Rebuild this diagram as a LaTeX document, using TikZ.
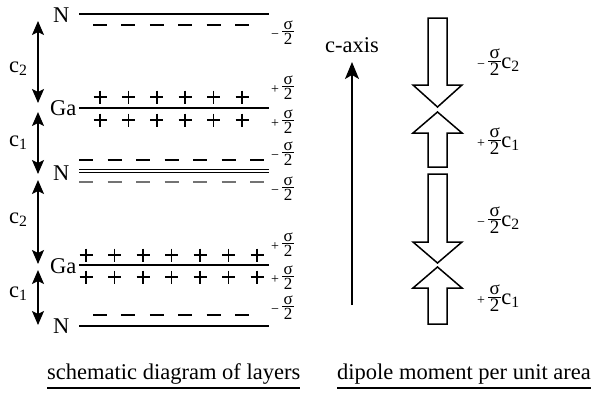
\documentclass[tikz,border=0pt]{standalone}
\usepackage{fontspec}
\setmainfont{Liberation Serif}
\usetikzlibrary{arrows.meta}
\newcommand\hsig[1]{{\fontsize{#1}{#1}\selectfont\renewcommand\arraystretch{0.62}\begin{tabular}{@{\hspace{1.5pt}}c@{\hspace{1.5pt}}}σ\\[-1pt]\hline\noalign{\vskip1.5pt}2\end{tabular}}}
\newcommand\sgn[1]{{\fontsize{14}{14}\selectfont #1}\hspace{3pt}}
\begin{document}
\begin{tikzpicture}[x=1pt,y=-1pt,font=\fontsize{22.5}{27}\selectfont,
  layer/.style={line width=1.8pt},
  chg/.style={line width=1.7pt},
  grey/.style={chg,draw=black!55},
  dim/.style={line width=1.5pt,{Stealth[length=14pt,width=12pt,inset=3pt]}-{Stealth[length=14pt,width=12pt,inset=3pt]}},
  axis/.style={line width=1.5pt,-{Stealth[length=17pt,width=14pt,inset=4pt]}},
  blk/.style={draw,line width=1.5pt,fill=white,line join=miter},
  sig/.style={anchor=west,inner sep=0pt},
  lab/.style={anchor=base west,inner sep=0pt},
  captext/.style={anchor=base west,inner sep=0pt}]
\useasboundingbox (0,0) rectangle (597,394);

% layer lines
\draw[layer] (79,14) -- (269,14);
\draw[layer] (79,108) -- (269,108);
\draw[line width=1.3pt] (79,169.5) -- (269,169.5);
\draw[line width=1.3pt] (79,172.5) -- (269,172.5);
\draw[layer] (79,265) -- (269,265);
\draw[layer] (79,326) -- (269,326);

% labels of layers
\node[lab] (n1) at (53,22) {N};
\node[lab] (g1) at (50,115) {Ga};
\node[lab] (n2) at (53,180) {N};
\node[lab] (g2) at (50,273) {Ga};
\node[lab] (n3) at (53,333) {N};

% charges
\foreach \i in {0,...,5} {
  \draw[chg] ({100+28.4*\i-7},25) -- ({100+28.4*\i+7},25);
  \draw[chg] ({100+28.4*\i-6.5},97) -- ({100+28.4*\i+6.5},97);
  \draw[chg] ({100+28.4*\i},90.5) -- ({100+28.4*\i},103.5);
  \draw[chg] ({100+28.4*\i-6.5},120) -- ({100+28.4*\i+6.5},120);
  \draw[chg] ({100+28.4*\i},113.5) -- ({100+28.4*\i},126.5);
  \draw[chg] ({100+28.4*\i-7},315) -- ({100+28.4*\i+7},315);
}
\foreach \i in {0,...,6} {
  \draw[chg] ({86+28.5*\i-7},160) -- ({86+28.5*\i+7},160);
  \draw[grey] ({86+28.5*\i-7},182) -- ({86+28.5*\i+7},182);
  \draw[chg] ({86+28.5*\i-6.5},255) -- ({86+28.5*\i+6.5},255);
  \draw[chg] ({86+28.5*\i},248.5) -- ({86+28.5*\i},261.5);
  \draw[chg] ({86+28.5*\i-6.5},277) -- ({86+28.5*\i+6.5},277);
  \draw[chg] ({86+28.5*\i},270.5) -- ({86+28.5*\i},283.5);
}

% charge densities
\node[sig] (s1) at (271,34) {\sgn{−}\hsig{17}};
\node[sig] (s2) at (271,89) {\sgn{+}\hsig{17}};
\node[sig] (s3) at (271,123) {\sgn{+}\hsig{17}};
\node[sig] (s4) at (271,155) {\sgn{−}\hsig{17}};
\node[sig] (s5) at (271,190) {\sgn{−}\hsig{17}};
\node[sig] (s6) at (271,246) {\sgn{+}\hsig{17}};
\node[sig] (s7) at (271,279) {\sgn{+}\hsig{17}};
\node[sig] (s8) at (271,309) {\sgn{−}\hsig{17}};

% spacing arrows
\coordinate (a0) at (38,21);
\coordinate (a1) at (38,103);
\coordinate (a2) at (38,112);
\coordinate (a3) at (38,174);
\coordinate (a4) at (38,180);
\coordinate (a5) at (38,264);
\coordinate (a6) at (38,270);
\coordinate (a7) at (38,325);
\draw[dim] (a0) -- (a1);
\draw[dim] (a2) -- (a3);
\draw[dim] (a4) -- (a5);
\draw[dim] (a6) -- (a7);
\node[lab] (c2a) at (9,72) {c\textsubscript{2}};
\node[lab] (c1a) at (9,146) {c\textsubscript{1}};
\node[lab] (c2b) at (9,223) {c\textsubscript{2}};
\node[lab] (c1b) at (9,297) {c\textsubscript{1}};

% c-axis
\node (cax) at (352,45) {c-axis};
\coordinate (axb) at (352,305);
\coordinate (axt) at (352,62);
\draw[axis] (axb) -- (axt);

% dipole block arrows
\draw[blk] (428,18) -- (447,18) -- (447,85) -- (462,85) -- (437.5,107) -- (413,85) -- (428,85) -- cycle;
\draw[blk] (437.5,112) -- (462,133) -- (447,133) -- (447,167) -- (428,167) -- (428,133) -- (413,133) -- cycle;
\draw[blk] (428,174) -- (447,174) -- (447,242) -- (462,242) -- (437.5,263) -- (413,242) -- (428,242) -- cycle;
\draw[blk] (437.5,267) -- (462,288) -- (447,288) -- (447,324) -- (428,324) -- (428,288) -- (413,288) -- cycle;

\node[sig] (d1) at (477,64) {\sgn{−}\hsig{19}c\textsubscript{2}};
\node[sig] (d2) at (477,143) {\sgn{+}\hsig{19}c\textsubscript{1}};
\node[sig] (d3) at (477,222) {\sgn{−}\hsig{19}c\textsubscript{2}};
\node[sig] (d4) at (477,300) {\sgn{+}\hsig{19}c\textsubscript{1}};

% captions
\node[captext] (t1) at (47,379) {schematic diagram of layers};
\node[captext] (t2) at (337,379) {dipole moment per unit area};
\draw[line width=1.2pt] (47,388) -- (t1.east |- 0,388);
\draw[line width=1.2pt] (337,388) -- (t2.east |- 0,388);
\end{tikzpicture}
\end{document}
